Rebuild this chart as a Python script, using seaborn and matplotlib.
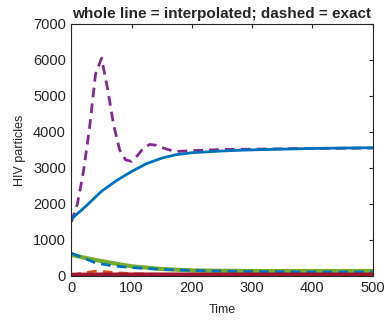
"""
Interpolated vs exact HIV model trajectories.
"""

import matplotlib
matplotlib.use("Agg")
import matplotlib.pyplot as plt
import seaborn as sns
import pandas as pd

# Virus, exact solution (dashed)
t_virus_exact = [0, 10, 20, 30, 40, 50, 60, 70, 80, 90, 100, 110, 120, 130, 140,
                 150, 160, 170, 180, 200, 250, 300, 350, 400, 450, 500]
virus_exact = [1500, 2000, 2900, 4100, 5600, 6050, 5200, 4200, 3500, 3220, 3180,
               3350, 3560, 3650, 3630, 3570, 3510, 3470, 3460, 3480, 3510, 3520,
               3530, 3540, 3545, 3550]

# Virus, interpolated (solid)
t_virus_interp = [0, 25, 50, 75, 100, 125, 150, 175, 200, 250, 300, 350, 400, 450, 500]
virus_interp = [1580, 1950, 2350, 2650, 2900, 3120, 3270, 3370, 3420, 3470, 3500,
                3520, 3540, 3550, 3560]

# Lower compartments
t_low = [0, 20, 40, 60, 80, 100, 150, 200, 250, 300, 350, 400, 450, 500]
blue_exact = [630, 500, 360, 300, 260, 230, 180, 150, 130, 120, 115, 110, 110, 110]
green_interp = [580, 510, 440, 380, 320, 265, 190, 150, 140, 135, 135, 135, 135, 135]
orange_exact = [20, 80, 130, 110, 80, 60, 40, 35, 30, 30, 30, 30, 30, 30]
red_interp = [40, 42, 45, 45, 45, 45, 45, 45, 45, 45, 45, 45, 45, 45]
cyan_exact = [5, 5, 5, 5, 5, 5, 5, 5, 5, 5, 5, 5, 5, 5]

# MATLAB default line colours
c_blue = (0, 0.447, 0.741)
c_orange = (0.850, 0.325, 0.098)
c_purple = (0.494, 0.184, 0.556)
c_green = (0.466, 0.674, 0.188)
c_cyan = (0.301, 0.745, 0.933)
c_red = (0.635, 0.078, 0.184)

sns.set_style("white")
plt.rcParams['font.family'] = ['Liberation Sans', 'DejaVu Sans']

fig = plt.figure(figsize=(3.86, 3.23), dpi=100)
ax = fig.add_axes([0.185, 0.146, 0.7805, 0.78])

series = [
    (t_virus_exact, virus_exact, c_purple, 2.0, True),
    (t_virus_interp, virus_interp, c_blue, 2.0, False),
    (t_low, cyan_exact, c_cyan, 2.0, True),
    (t_low, orange_exact, c_orange, 2.0, True),
    (t_low, green_interp, c_green, 3.0, False),
    (t_low, blue_exact, c_blue, 2.0, True),
    (t_low, red_interp, c_red, 2.5, False),
]

for t, v, col, lw, dashed in series:
    df = pd.DataFrame({"Time": t, "value": v})
    sns.lineplot(data=df, x="Time", y="value", ax=ax, color=col, linewidth=lw)
    if dashed:
        ax.lines[-1].set_linestyle((0, (3.5, 2.2)))

ax.set_xlim(0, 500)
ax.set_ylim(0, 7000)
ax.set_xticks([0, 100, 200, 300, 400, 500])
ax.set_yticks(range(0, 7001, 1000))

ax.tick_params(direction='in', length=3, width=0.8, top=True, right=True,
               labelsize=10.5, colors=(0.15, 0.15, 0.15), pad=4)
for s in ax.spines.values():
    s.set_color((0.15, 0.15, 0.15))
    s.set_linewidth(0.8)

ax.set_xlabel("Time", fontsize=9, color=(0.15, 0.15, 0.15), labelpad=6)
ax.set_ylabel("HIV particles", fontsize=9, color=(0.15, 0.15, 0.15), labelpad=5)
ax.set_title("whole line = interpolated; dashed = exact", fontsize=11,
             fontweight='bold', pad=4)

fig.savefig("out.png", dpi=100)
